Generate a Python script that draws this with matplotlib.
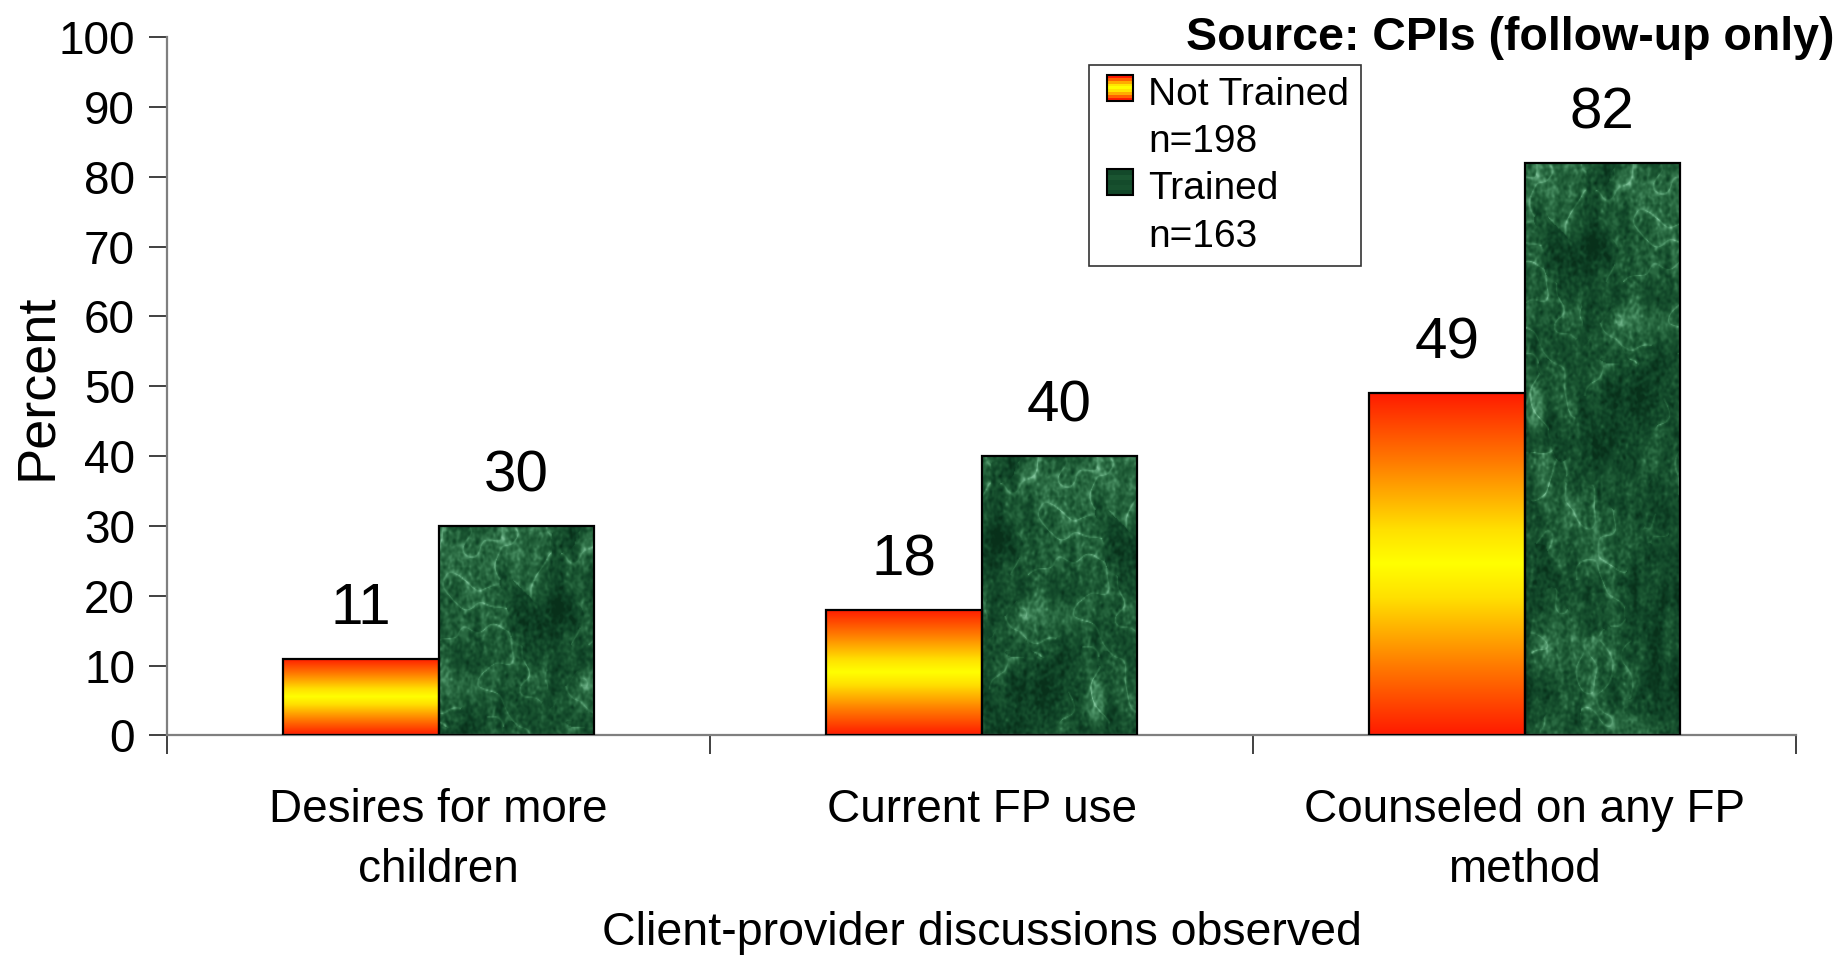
import numpy as np
import matplotlib
matplotlib.use("Agg")
import matplotlib.pyplot as plt
from matplotlib.colors import LinearSegmentedColormap
from matplotlib.patches import Rectangle
from matplotlib.legend_handler import HandlerBase

plt.rcParams["font.family"] = ["Liberation Sans", "DejaVu Sans"]

CATEGORIES = ["Desires for more\nchildren", "Current FP use", "Counseled on any FP\nmethod"]
NOT_TRAINED = [11, 18, 49]
TRAINED = [30, 40, 82]
SERIES_LABELS = ["Not Trained", "n=198", "Trained", "n=163"]
YTICKS = list(range(0, 101, 10))

FIRE = LinearSegmentedColormap.from_list(
    "fire", [(0.0, "#FF1A00"), (0.2, "#FF7A00"), (0.4, "#FFE000"),
             (0.5, "#FFFF00"), (0.6, "#FFE000"), (0.8, "#FF7A00"),
             (1.0, "#FF1A00")])
MARBLE = LinearSegmentedColormap.from_list(
    "marble", ["#08301A", "#0F4226", "#1A5531", "#2D6E45", "#4E9468", "#80C29A"])


def smooth_noise(rng, shape, scale, aspect=1.0):
    # low-pass filtered white noise, normalised to zero mean / unit std
    n = rng.standard_normal(shape)
    fy = np.fft.fftfreq(shape[0])[:, None]
    fx = np.fft.fftfreq(shape[1])[None, :]
    filt = np.exp(-((fx * aspect) ** 2 + fy ** 2) * (scale ** 2) * 20)
    out = np.real(np.fft.ifft2(np.fft.fft2(n) * filt))
    return (out - out.mean()) / out.std()


def marble_texture(shape=(600, 170), seed=11):
    rng = np.random.default_rng(seed)
    clouds = 0.6 * smooth_noise(rng, shape, 20) + 0.4 * smooth_noise(rng, shape, 8)
    veins = np.exp(-np.abs(smooth_noise(rng, shape, 9)) * 6.0)
    streaks = smooth_noise(rng, shape, 12, aspect=0.25)
    speckle = smooth_noise(rng, shape, 1.2)
    tex = (0.28 + 0.11 * clouds + 0.26 * veins * (clouds > -0.3)
           + 0.05 * streaks + 0.06 * speckle)
    return np.clip(tex, 0, 1)


class StripeHandler(HandlerBase):
    """Small square legend key filled with horizontal colour stripes."""

    def __init__(self, cmap, vals):
        super().__init__()
        self.cmap = cmap
        self.vals = vals

    def create_artists(self, legend, orig_handle, xdescent, ydescent,
                       width, height, fontsize, trans):
        if not self.vals:
            return [Rectangle((0, 0), 0, 0, visible=False, transform=trans)]
        side = height * 0.95
        x0 = -xdescent + (width - side) / 2
        y0 = -ydescent + height - side + height * 0.1
        n = len(self.vals)
        arts = []
        for i, v in enumerate(self.vals):
            arts.append(Rectangle((x0, y0 + side * i / n), side, side / n + 0.3,
                                  facecolor=self.cmap(v), edgecolor="none",
                                  transform=trans))
        arts.append(Rectangle((x0, y0), side, side, facecolor="none",
                              edgecolor="black", lw=1.5, transform=trans))
        return arts


fig = plt.figure(figsize=(18.44, 9.55), dpi=100)
ax = fig.add_axes([0.0906, 0.230, 0.8834, 0.731])

x = np.arange(len(CATEGORIES))
w = 0.2865
bars_nt = ax.bar(x - w / 2, NOT_TRAINED, w, facecolor="none",
                 edgecolor="black", linewidth=1.6, zorder=3)
bars_t = ax.bar(x + w / 2, TRAINED, w, facecolor="none",
                edgecolor="black", linewidth=1.6, zorder=3)

grad = np.linspace(0, 1, 256)[:, None]
for b in bars_nt:
    x0, h = b.get_x(), b.get_height()
    im = ax.imshow(grad, cmap=FIRE, aspect="auto", origin="lower",
                   extent=(x0, x0 + b.get_width(), 0, h), zorder=2,
                   interpolation="bilinear")
    im.set_clip_path(b)

tex = marble_texture()
for i, b in enumerate(bars_t):
    x0, h = b.get_x(), b.get_height()
    rows = max(int(tex.shape[0] * h / 100.0), 8)
    piece = np.roll(tex, i * 57, axis=1)[:rows]
    im = ax.imshow(piece, cmap=MARBLE, aspect="auto", origin="upper",
                   extent=(x0, x0 + b.get_width(), 0, h), zorder=2,
                   interpolation="bilinear", vmin=0, vmax=0.75)
    im.set_clip_path(b)

for bars, vals in ((bars_nt, NOT_TRAINED), (bars_t, TRAINED)):
    for b, v in zip(bars, vals):
        ax.text(b.get_x() + b.get_width() / 2, v + 3.2, f"{v}",
                ha="center", va="bottom", fontsize=42)

ax.set_xlim(-0.5, len(CATEGORIES) - 0.5)
ax.set_ylim(0, 100)
ax.set_yticks(YTICKS)
ax.set_xticks(np.arange(len(CATEGORIES) + 1) - 0.5)
ax.set_xticklabels([])
ax.set_xticks(x, minor=True)
ax.set_xticklabels(CATEGORIES, minor=True, fontsize=33, linespacing=1.47)
ax.tick_params(axis="x", which="minor", length=0, pad=38)
ax.tick_params(axis="x", which="major", length=14, width=1.4, color="#404040")
ax.tick_params(axis="y", length=13, width=1.4, color="#404040",
               labelsize=33, pad=10)

for side in ("top", "right"):
    ax.spines[side].set_visible(False)
for side in ("left", "bottom"):
    ax.spines[side].set_color("#7F7F7F")
    ax.spines[side].set_linewidth(1.6)

ax.set_ylabel("Percent", fontsize=39, va="center")
ax.yaxis.set_label_coords(-0.080, 0.5)
ax.set_xlabel("Client-provider discussions observed", fontsize=33.5, va="center")
ax.xaxis.set_label_coords(0.5, -0.283)

fig.text(0.995, 0.948, "Source: CPIs (follow-up only)", ha="right",
         va="baseline", fontsize=33.5, fontweight="bold")

h_nt = Rectangle((0, 0), 1, 1)
h_t = Rectangle((0, 0), 1, 1)
blank1 = Rectangle((0, 0), 1, 1)
blank2 = Rectangle((0, 0), 1, 1)
fire_vals = [0.0, 0.15, 0.3, 0.42, 0.5, 0.58, 0.7, 0.85, 1.0]
green_vals = [0.25, 0.35, 0.3, 0.4, 0.28]
leg = ax.legend([h_nt, blank1, h_t, blank2], SERIES_LABELS,
                handler_map={h_nt: StripeHandler(FIRE, fire_vals),
                             h_t: StripeHandler(MARBLE, green_vals),
                             blank1: StripeHandler(FIRE, []),
                             blank2: StripeHandler(FIRE, [])},
                loc="upper left", bbox_to_anchor=(0.566, 0.960),
                fontsize=28, frameon=True, fancybox=False,
                handlelength=1.0, handleheight=0.7, handletextpad=0.22,
                labelspacing=0.29, borderpad=0.3, borderaxespad=0)
leg.get_frame().set_edgecolor("black")
leg.get_frame().set_linewidth(1.2)

fig.savefig("out.png", dpi=100)
